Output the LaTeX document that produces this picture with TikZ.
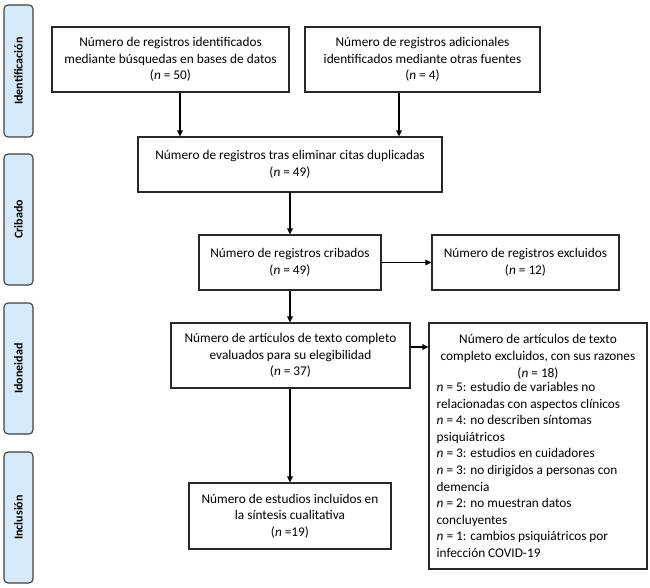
\documentclass[tikz,border=0pt]{standalone}
\usepackage{fontspec}
\setmainfont{Carlito}
\usetikzlibrary{arrows.meta}
\definecolor{sidefill}{RGB}{214,233,249}
\definecolor{sidedraw}{RGB}{64,64,64}
\definecolor{boxdraw}{RGB}{40,40,40}
\begin{document}
\begin{tikzpicture}[x=1pt,y=-1pt,
  every node/.style={font=\fontsize{13.3}{16.6}\selectfont},
  flowbox/.style={draw=boxdraw,line width=1.1pt,align=center,inner sep=0pt,minimum width=#1},
  sidelab/.style={draw=sidedraw,fill=sidefill,line width=1.1pt,rounded corners=4pt,
    rotate=90,minimum height=29pt,inner sep=0pt,font=\fontsize{12}{14}\selectfont\bfseries},
  arr/.style={line width=1.1pt,-{Triangle[length=6pt,width=5.5pt]}}]
\useasboundingbox (0,0) rectangle (650,588);
% side labels
\node[sidelab,minimum width=132pt] (s1) at (18.5,71) {Identificación};
\node[sidelab,minimum width=131pt] (s2) at (18.5,219.5) {Cribado};
\node[sidelab,minimum width=131pt] (s3) at (18.5,368.5) {Idoneidad};
\node[sidelab,minimum width=131pt] (s4) at (18.5,517.5) {Inclusión};
% boxes
\node[flowbox=237pt,minimum height=65pt] (A) at (170.5,59.5) {Número de registros identificados\\mediante búsquedas en bases de datos\\(\textit{n} = 50)};
\node[flowbox=235pt,minimum height=65pt] (B) at (422.5,59.5) {Número de registros adicionales\\identificados mediante otras fuentes\\(\textit{n} = 4)};
\node[flowbox=304pt,minimum height=55pt] (C) at (290,164.5) {Número de registros tras eliminar citas duplicadas\\(\textit{n} = 49)};
\node[flowbox=182pt,minimum height=55pt] (D) at (290,262.5) {Número de registros cribados\\(\textit{n} = 49)};
\node[flowbox=187pt,minimum height=55pt] (E) at (525.5,262.5) {Número de registros excluidos\\(\textit{n} = 12)};
\node[flowbox=239pt,minimum height=65pt] (F) at (290.5,355.5) {Número de artículos de texto completo\\evaluados para su elegibilidad\\(\textit{n} = 37)};
\node[draw=boxdraw,line width=1.1pt,minimum width=218pt,minimum height=246pt,inner sep=0pt] (G) at (538,446) {};
\node[anchor=north,align=center,inner sep=0pt] (Gh) at ([yshift=-12pt]G.north) {Número de artículos de texto\\completo excluidos, con sus razones\\(\textit{n} = 18)};
\node[anchor=north west,align=left,inner sep=0pt] (Gl) at ([xshift=8pt,yshift=-3pt]Gh.south -| G.west) {\textit{n} = 5: estudio de variables no\\relacionadas con aspectos clínicos\\\textit{n} = 4: no describen síntomas\\psiquiátricos\\\textit{n} = 3: estudios en cuidadores\\\textit{n} = 3: no dirigidos a personas con\\demencia\\\textit{n} = 2: no muestran datos\\concluyentes\\\textit{n} = 1: cambios psiquiátricos por\\infección COVID-19};
\node[flowbox=202pt,minimum height=66pt] (H) at (290,516) {Número de estudios incluidos en\\la síntesis cualitativa\\(\textit{n} =19)};
% arrows
\coordinate (a1) at ([xshift=9.5pt]A.south);
\coordinate (b1) at ([xshift=-23.5pt]B.south);
\draw[arr] (a1) -- (a1 |- C.north);
\draw[arr] (b1) -- (b1 |- C.north);
\draw[arr] (C.south) -- (D.north);
\draw[arr] (D.south) -- (D.south |- F.north);
\draw[arr] (D.east) -- (E.west);
\coordinate (f1) at ([yshift=8.5pt]F.east);
\draw[arr] (f1) -- (f1 -| G.west);
\draw[arr] (H.north |- F.south) -- (H.north);
\end{tikzpicture}
\end{document}
